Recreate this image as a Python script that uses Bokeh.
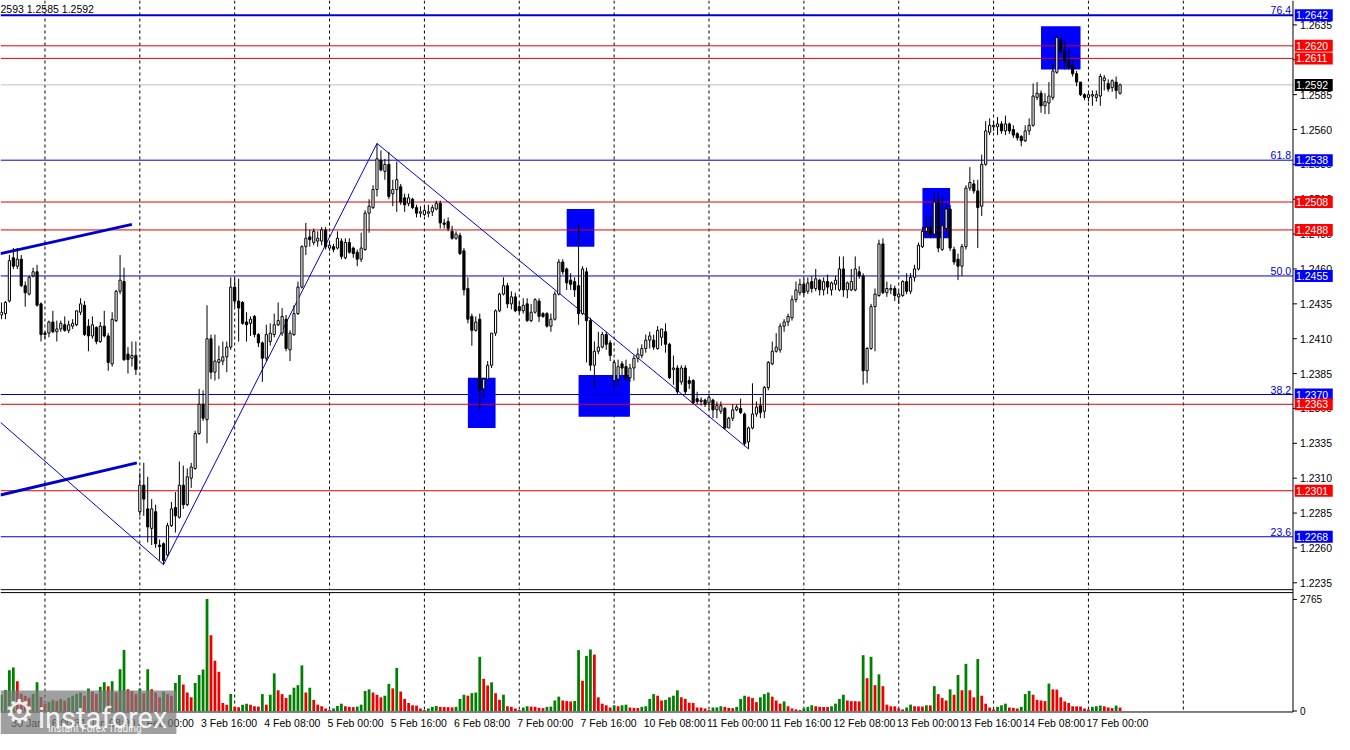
from bokeh.plotting import figure
from bokeh.models import Range1d
from bokeh.embed import file_html
from bokeh.resources import INLINE
from bokeh.core.properties import value

# ---------------- data (hourly candles, 30 Jan 13:00 .. 17 Feb 08:00) ----------------
opens = [
    1.2427, 1.2428, 1.2437, 1.2468, 1.2462, 1.2467, 1.2448, 1.2442, 1.2455, 1.2458,
    1.2435, 1.2414, 1.2414, 1.2422, 1.2415, 1.2417, 1.2420, 1.2416, 1.2419, 1.2420,
    1.2429, 1.2434, 1.2419, 1.2412, 1.2418, 1.2408, 1.2419, 1.2412, 1.2392, 1.2423,
    1.2444, 1.2451, 1.2399, 1.2396, 1.2398, 1.2286, 1.2305, 1.2288, 1.2274, 1.2286,
    1.2262, 1.2263, 1.2255, 1.2276, 1.2289, 1.2282, 1.2305, 1.2291, 1.2310, 1.2317,
    1.2342, 1.2363, 1.2352, 1.2410, 1.2386, 1.2393, 1.2394, 1.2397, 1.2404, 1.2447,
    1.2437, 1.2436, 1.2422, 1.2421, 1.2426, 1.2413, 1.2407, 1.2396, 1.2408, 1.2413,
    1.2420, 1.2414, 1.2424, 1.2402, 1.2413, 1.2428, 1.2447, 1.2476, 1.2483, 1.2479,
    1.2480, 1.2480, 1.2488, 1.2475, 1.2476, 1.2475, 1.2480, 1.2468, 1.2479, 1.2475,
    1.2472, 1.2467, 1.2474, 1.2500, 1.2504, 1.2517, 1.2538, 1.2530, 1.2535, 1.2514,
    1.2517, 1.2519, 1.2511, 1.2507, 1.2510, 1.2504, 1.2500, 1.2499, 1.2500, 1.2501,
    1.2503, 1.2507, 1.2493, 1.2494, 1.2487, 1.2482, 1.2484, 1.2473, 1.2446, 1.2426,
    1.2416, 1.2424, 1.2374, 1.2381, 1.2391, 1.2414, 1.2430, 1.2442, 1.2448, 1.2435,
    1.2440, 1.2433, 1.2430, 1.2435, 1.2423, 1.2429, 1.2437, 1.2428, 1.2428, 1.2419,
    1.2424, 1.2442, 1.2465, 1.2460, 1.2452, 1.2451, 1.2448, 1.2428, 1.2458, 1.2423,
    1.2391, 1.2401, 1.2404, 1.2413, 1.2407, 1.2380, 1.2381, 1.2392, 1.2390, 1.2382,
    1.2389, 1.2396, 1.2398, 1.2403, 1.2409, 1.2409, 1.2403, 1.2411, 1.2415, 1.2406,
    1.2388, 1.2389, 1.2379, 1.2389, 1.2380, 1.2380, 1.2367, 1.2365, 1.2366, 1.2364,
    1.2366, 1.2359, 1.2358, 1.2360, 1.2346, 1.2353, 1.2359, 1.2360, 1.2356, 1.2336,
    1.2346, 1.2356, 1.2362, 1.2358, 1.2375, 1.2392, 1.2401, 1.2402, 1.2419, 1.2422,
    1.2425, 1.2438, 1.2443, 1.2449, 1.2444, 1.2451, 1.2446, 1.2452, 1.2445, 1.2451,
    1.2445, 1.2449, 1.2445, 1.2460, 1.2445, 1.2445, 1.2445, 1.2458, 1.2455, 1.2387,
    1.2403, 1.2433, 1.2441, 1.2478, 1.2443, 1.2445, 1.2446, 1.2440, 1.2441, 1.2451,
    1.2444, 1.2454, 1.2460, 1.2476, 1.2487, 1.2490, 1.2485, 1.2508, 1.2474, 1.2489,
    1.2503, 1.2474, 1.2467, 1.2462, 1.2476, 1.2518, 1.2521, 1.2516, 1.2505, 1.2535,
    1.2558, 1.2562, 1.2562, 1.2564, 1.2559, 1.2564, 1.2560, 1.2557, 1.2555, 1.2552,
    1.2559, 1.2563, 1.2583, 1.2586, 1.2577, 1.2579, 1.2583, 1.2601, 1.2624, 1.2616,
    1.2609, 1.2606, 1.2600, 1.2594, 1.2585, 1.2583, 1.2584, 1.2583, 1.2584, 1.2595,
    1.2593, 1.2590, 1.2594, 1.2586,
]
highs = [
    1.2436, 1.2437, 1.2470, 1.2475, 1.2475, 1.2470, 1.2451, 1.2455, 1.2461, 1.2463,
    1.2436, 1.2415, 1.2423, 1.2430, 1.2423, 1.2423, 1.2426, 1.2423, 1.2424, 1.2430,
    1.2439, 1.2437, 1.2424, 1.2426, 1.2419, 1.2422, 1.2430, 1.2414, 1.2429, 1.2445,
    1.2470, 1.2461, 1.2404, 1.2408, 1.2408, 1.2314, 1.2321, 1.2311, 1.2295, 1.2291,
    1.2266, 1.2264, 1.2278, 1.2293, 1.2300, 1.2322, 1.2319, 1.2317, 1.2321, 1.2344,
    1.2374, 1.2373, 1.2434, 1.2413, 1.2413, 1.2405, 1.2408, 1.2408, 1.2454, 1.2453,
    1.2453, 1.2437, 1.2429, 1.2426, 1.2427, 1.2414, 1.2408, 1.2420, 1.2421, 1.2428,
    1.2436, 1.2432, 1.2427, 1.2416, 1.2434, 1.2451, 1.2477, 1.2493, 1.2488, 1.2489,
    1.2487, 1.2490, 1.2490, 1.2479, 1.2478, 1.2487, 1.2482, 1.2482, 1.2482, 1.2476,
    1.2474, 1.2486, 1.2502, 1.2510, 1.2520, 1.2550, 1.2545, 1.2539, 1.2544, 1.2524,
    1.2537, 1.2521, 1.2514, 1.2514, 1.2511, 1.2506, 1.2505, 1.2505, 1.2506, 1.2506,
    1.2509, 1.2509, 1.2496, 1.2497, 1.2491, 1.2487, 1.2486, 1.2475, 1.2454, 1.2428,
    1.2426, 1.2428, 1.2382, 1.2394, 1.2414, 1.2431, 1.2443, 1.2454, 1.2450, 1.2444,
    1.2443, 1.2436, 1.2439, 1.2439, 1.2435, 1.2439, 1.2439, 1.2429, 1.2429, 1.2428,
    1.2444, 1.2467, 1.2467, 1.2461, 1.2457, 1.2454, 1.2493, 1.2462, 1.2461, 1.2425,
    1.2408, 1.2415, 1.2415, 1.2415, 1.2409, 1.2395, 1.2395, 1.2394, 1.2395, 1.2392,
    1.2398, 1.2403, 1.2406, 1.2413, 1.2415, 1.2413, 1.2419, 1.2417, 1.2421, 1.2407,
    1.2398, 1.2391, 1.2391, 1.2391, 1.2383, 1.2381, 1.2372, 1.2368, 1.2367, 1.2370,
    1.2367, 1.2365, 1.2365, 1.2361, 1.2354, 1.2363, 1.2363, 1.2367, 1.2357, 1.2347,
    1.2378, 1.2365, 1.2368, 1.2376, 1.2394, 1.2408, 1.2414, 1.2421, 1.2424, 1.2428,
    1.2441, 1.2451, 1.2453, 1.2453, 1.2454, 1.2455, 1.2460, 1.2453, 1.2454, 1.2456,
    1.2451, 1.2455, 1.2469, 1.2469, 1.2451, 1.2460, 1.2469, 1.2462, 1.2457, 1.2404,
    1.2435, 1.2446, 1.2481, 1.2482, 1.2451, 1.2449, 1.2448, 1.2444, 1.2452, 1.2457,
    1.2457, 1.2463, 1.2479, 1.2490, 1.2498, 1.2498, 1.2515, 1.2515, 1.2512, 1.2506,
    1.2506, 1.2476, 1.2471, 1.2478, 1.2520, 1.2533, 1.2524, 1.2524, 1.2542, 1.2566,
    1.2568, 1.2566, 1.2569, 1.2566, 1.2570, 1.2565, 1.2563, 1.2558, 1.2556, 1.2563,
    1.2568, 1.2593, 1.2594, 1.2588, 1.2586, 1.2594, 1.2607, 1.2628, 1.2626, 1.2624,
    1.2618, 1.2610, 1.2602, 1.2594, 1.2586, 1.2586, 1.2588, 1.2588, 1.2600, 1.2599,
    1.2596, 1.2596, 1.2598, 1.2593,
]
lows = [
    1.2424, 1.2424, 1.2436, 1.2460, 1.2460, 1.2447, 1.2433, 1.2441, 1.2454, 1.2433,
    1.2408, 1.2410, 1.2411, 1.2414, 1.2408, 1.2415, 1.2415, 1.2414, 1.2417, 1.2419,
    1.2427, 1.2412, 1.2401, 1.2410, 1.2406, 1.2407, 1.2411, 1.2387, 1.2390, 1.2422,
    1.2442, 1.2394, 1.2385, 1.2390, 1.2384, 1.2283, 1.2283, 1.2264, 1.2262, 1.2260,
    1.2251, 1.2248, 1.2254, 1.2275, 1.2271, 1.2281, 1.2288, 1.2290, 1.2303, 1.2316,
    1.2341, 1.2351, 1.2335, 1.2381, 1.2380, 1.2381, 1.2391, 1.2386, 1.2402, 1.2433,
    1.2408, 1.2420, 1.2408, 1.2412, 1.2411, 1.2404, 1.2379, 1.2394, 1.2405, 1.2411,
    1.2419, 1.2412, 1.2401, 1.2394, 1.2412, 1.2427, 1.2446, 1.2470, 1.2476, 1.2477,
    1.2476, 1.2477, 1.2474, 1.2473, 1.2472, 1.2474, 1.2467, 1.2467, 1.2471, 1.2468,
    1.2462, 1.2465, 1.2473, 1.2486, 1.2503, 1.2512, 1.2530, 1.2524, 1.2510, 1.2505,
    1.2501, 1.2506, 1.2501, 1.2505, 1.2503, 1.2497, 1.2497, 1.2498, 1.2497, 1.2498,
    1.2502, 1.2489, 1.2489, 1.2487, 1.2481, 1.2481, 1.2470, 1.2441, 1.2421, 1.2405,
    1.2415, 1.2359, 1.2367, 1.2380, 1.2389, 1.2412, 1.2429, 1.2441, 1.2432, 1.2431,
    1.2429, 1.2428, 1.2428, 1.2422, 1.2422, 1.2428, 1.2422, 1.2425, 1.2418, 1.2415,
    1.2423, 1.2441, 1.2456, 1.2445, 1.2445, 1.2440, 1.2420, 1.2427, 1.2393, 1.2387,
    1.2375, 1.2399, 1.2403, 1.2402, 1.2394, 1.2373, 1.2376, 1.2384, 1.2380, 1.2379,
    1.2380, 1.2393, 1.2396, 1.2400, 1.2403, 1.2402, 1.2402, 1.2405, 1.2400, 1.2381,
    1.2377, 1.2370, 1.2377, 1.2370, 1.2374, 1.2363, 1.2363, 1.2362, 1.2361, 1.2359,
    1.2353, 1.2353, 1.2356, 1.2345, 1.2346, 1.2351, 1.2358, 1.2356, 1.2333, 1.2331,
    1.2345, 1.2354, 1.2353, 1.2353, 1.2373, 1.2391, 1.2400, 1.2400, 1.2415, 1.2419,
    1.2423, 1.2436, 1.2441, 1.2441, 1.2442, 1.2443, 1.2444, 1.2441, 1.2441, 1.2442,
    1.2441, 1.2445, 1.2444, 1.2440, 1.2439, 1.2444, 1.2444, 1.2453, 1.2377, 1.2378,
    1.2402, 1.2401, 1.2440, 1.2442, 1.2440, 1.2442, 1.2437, 1.2435, 1.2440, 1.2442,
    1.2442, 1.2451, 1.2459, 1.2475, 1.2484, 1.2482, 1.2483, 1.2472, 1.2473, 1.2487,
    1.2473, 1.2463, 1.2452, 1.2455, 1.2474, 1.2516, 1.2514, 1.2475, 1.2498, 1.2534,
    1.2556, 1.2559, 1.2556, 1.2557, 1.2556, 1.2557, 1.2554, 1.2552, 1.2548, 1.2551,
    1.2556, 1.2562, 1.2581, 1.2572, 1.2571, 1.2571, 1.2581, 1.2600, 1.2615, 1.2603,
    1.2603, 1.2598, 1.2591, 1.2584, 1.2581, 1.2580, 1.2577, 1.2580, 1.2577, 1.2588,
    1.2587, 1.2587, 1.2582, 1.2585,
]
closes = [
    1.2429, 1.2436, 1.2466, 1.2462, 1.2467, 1.2448, 1.2443, 1.2454, 1.2458, 1.2434,
    1.2413, 1.2413, 1.2422, 1.2415, 1.2417, 1.2421, 1.2416, 1.2420, 1.2421, 1.2430,
    1.2435, 1.2413, 1.2412, 1.2420, 1.2408, 1.2419, 1.2412, 1.2393, 1.2424, 1.2444,
    1.2452, 1.2395, 1.2395, 1.2398, 1.2388, 1.2305, 1.2295, 1.2275, 1.2288, 1.2263,
    1.2261, 1.2251, 1.2276, 1.2288, 1.2283, 1.2305, 1.2291, 1.2311, 1.2318, 1.2342,
    1.2363, 1.2353, 1.2410, 1.2386, 1.2394, 1.2395, 1.2397, 1.2404, 1.2447, 1.2437,
    1.2432, 1.2421, 1.2420, 1.2424, 1.2413, 1.2407, 1.2396, 1.2413, 1.2414, 1.2420,
    1.2423, 1.2426, 1.2403, 1.2414, 1.2428, 1.2447, 1.2476, 1.2482, 1.2481, 1.2487,
    1.2482, 1.2488, 1.2476, 1.2477, 1.2474, 1.2482, 1.2469, 1.2479, 1.2472, 1.2471,
    1.2467, 1.2475, 1.2500, 1.2505, 1.2517, 1.2539, 1.2531, 1.2535, 1.2512, 1.2517,
    1.2524, 1.2508, 1.2506, 1.2511, 1.2504, 1.2500, 1.2501, 1.2502, 1.2501, 1.2504,
    1.2507, 1.2493, 1.2492, 1.2489, 1.2482, 1.2485, 1.2471, 1.2445, 1.2424, 1.2416,
    1.2422, 1.2373, 1.2381, 1.2391, 1.2414, 1.2430, 1.2442, 1.2448, 1.2435, 1.2440,
    1.2430, 1.2430, 1.2434, 1.2423, 1.2429, 1.2438, 1.2426, 1.2426, 1.2419, 1.2424,
    1.2442, 1.2465, 1.2458, 1.2450, 1.2449, 1.2445, 1.2428, 1.2460, 1.2423, 1.2391,
    1.2401, 1.2404, 1.2413, 1.2406, 1.2398, 1.2393, 1.2390, 1.2389, 1.2381, 1.2389,
    1.2396, 1.2399, 1.2403, 1.2409, 1.2412, 1.2404, 1.2416, 1.2417, 1.2406, 1.2382,
    1.2389, 1.2372, 1.2389, 1.2372, 1.2378, 1.2364, 1.2365, 1.2366, 1.2363, 1.2368,
    1.2359, 1.2362, 1.2362, 1.2346, 1.2353, 1.2359, 1.2361, 1.2357, 1.2335, 1.2346,
    1.2356, 1.2361, 1.2357, 1.2375, 1.2393, 1.2401, 1.2404, 1.2419, 1.2422, 1.2426,
    1.2438, 1.2445, 1.2449, 1.2443, 1.2450, 1.2446, 1.2453, 1.2445, 1.2451, 1.2447,
    1.2450, 1.2452, 1.2460, 1.2445, 1.2450, 1.2451, 1.2460, 1.2455, 1.2387, 1.2403,
    1.2433, 1.2442, 1.2478, 1.2443, 1.2446, 1.2446, 1.2441, 1.2442, 1.2451, 1.2444,
    1.2454, 1.2460, 1.2477, 1.2487, 1.2490, 1.2484, 1.2508, 1.2475, 1.2491, 1.2503,
    1.2475, 1.2465, 1.2462, 1.2476, 1.2518, 1.2522, 1.2516, 1.2504, 1.2535, 1.2559,
    1.2563, 1.2563, 1.2564, 1.2559, 1.2564, 1.2559, 1.2556, 1.2554, 1.2552, 1.2559,
    1.2563, 1.2584, 1.2586, 1.2577, 1.2580, 1.2584, 1.2602, 1.2626, 1.2616, 1.2609,
    1.2605, 1.2600, 1.2594, 1.2585, 1.2583, 1.2585, 1.2585, 1.2585, 1.2598, 1.2597,
    1.2589, 1.2595, 1.2588, 1.2592,
]
volumes = [
    400, 520, 1010, 1080, 735, 430, 380, 330, 420, 710,
    350, 180, 230, 280, 250, 300, 260, 330, 380, 420,
    458, 380, 560, 480, 420, 600, 711, 616, 735, 458,
    1035, 1509, 537, 498, 420, 560, 440, 1035, 537, 458,
    340, 480, 420, 380, 695, 893, 656, 458, 340, 695,
    893, 1027, 2773, 1880, 1248, 972, 198, 158, 419, 103,
    95, 158, 182, 158, 118, 110, 419, 158, 403, 932,
    514, 419, 324, 403, 577, 640, 1130, 458, 577, 277,
    158, 118, 63, 24, 63, 126, 182, 118, 103, 95,
    110, 158, 498, 537, 458, 403, 340, 379, 672, 561,
    1067, 482, 300, 198, 142, 134, 63, 24, 63, 103,
    126, 103, 100, 95, 90, 103, 300, 403, 380, 442,
    458, 1343, 798, 632, 711, 442, 277, 403, 118, 103,
    63, 24, 87, 118, 110, 103, 79, 71, 103, 110,
    261, 356, 261, 245, 237, 248, 1509, 750, 1367, 1525,
    1398, 340, 182, 142, 87, 142, 118, 142, 158, 87,
    79, 75, 103, 118, 300, 419, 379, 261, 277, 340,
    379, 514, 340, 300, 205, 200, 87, 85, 63, 24,
    87, 90, 118, 103, 79, 71, 103, 300, 379, 356,
    324, 221, 340, 419, 458, 356, 261, 182, 237, 118,
    63, 40, 24, 63, 103, 142, 118, 103, 100, 98,
    118, 182, 300, 403, 261, 245, 243, 237, 1383, 814,
    1343, 640, 909, 616, 158, 118, 115, 63, 40, 87,
    158, 118, 115, 112, 142, 140, 616, 419, 324, 261,
    537, 403, 893, 514, 1169, 514, 340, 1288, 379, 182,
    87, 40, 103, 142, 182, 87, 79, 63, 103, 419,
    498, 403, 277, 261, 245, 679, 537, 530, 340, 237,
    198, 118, 115, 112, 63, 40, 103, 118, 134, 118,
    87, 71, 134, 87,
]

# x-axis time labels (candle index -> text) and day separators (midnight candles)
label_idx = [3, 19, 35, 51, 67, 83, 99, 115, 131, 147, 163, 179, 195, 211, 227, 243, 259, 275]
label_txt = ["30 Jan 16:00", "31 Jan 08:00", "3 Feb 00:00", "3 Feb 16:00", "4 Feb 08:00",
             "5 Feb 00:00", "5 Feb 16:00", "6 Feb 08:00", "7 Feb 00:00", "7 Feb 16:00",
             "10 Feb 08:00", "11 Feb 00:00", "11 Feb 16:00", "12 Feb 08:00", "13 Feb 00:00",
             "13 Feb 16:00", "14 Feb 08:00", "17 Feb 00:00"]
day_idx = [11, 35, 59, 83, 107, 131, 155, 179, 203, 227, 251, 275, 299]

price_ticks = [1.2235, 1.2260, 1.2285, 1.2310, 1.2335, 1.2360, 1.2385, 1.2410, 1.2435,
               1.2460, 1.2485, 1.2510, 1.2535, 1.2560, 1.2585, 1.2610, 1.2635]
vol_ticks = [0, 2765]

# horizontal levels
fib_levels = [1.2642, 1.2538, 1.2455, 1.2370, 1.2268]
fib_names = ["76.4", "61.8", "50.0", "38.2", "23.6"]
sr_levels = [1.2620, 1.2611, 1.2508, 1.2488, 1.2363, 1.2301]
last_price = 1.2592

# zigzag (candle index, price) and channel lines
zz_idx = [-0.25, 41, 95, 189]
zz_price = [1.2350, 1.2248, 1.2550, 1.2331]
ch_x0 = [-0.25, -0.25]
ch_y0 = [1.2471, 1.2298]
ch_x1 = [33, 34.25]
ch_y1 = [1.2492, 1.2321]

# highlighted zones (index range, price range)
box_l = [118, 143, 146, 233, 263]
box_r = [125, 150, 159, 240, 273]
box_t = [1.2382, 1.2503, 1.2384, 1.2518, 1.2634]
box_b = [1.2346, 1.2476, 1.2354, 1.2482, 1.2603]

header_text = "2593 1.2585 1.2592"

# ---------------- layout helpers (reference pixel -> plot coordinates) ----------------
W, H = 1334, 734
REF_W, REF_H = 1350, 750
P_AT_TOP = 1.26525          # price at top pixel row
P_PER_PX = 0.00007017       # price per reference pixel
V_BASE_PX = 726             # reference row of volume zero
V_PER_PX = 24.25            # volume per reference pixel


def py(ref_y):
    return P_AT_TOP - ref_y * P_PER_PX


def ix(ref_x):
    return (ref_x - 1) / 4.0


def vy(ref_y):
    return (V_BASE_PX - ref_y) * V_PER_PX


FONT = "Liberation Sans"
BLUE_LINE = "#0000cd"
BLUE = "#0000ff"
RED_LINE = "#e00000"
RED = "#ff0000"
GREEN_VOL = "#008000"
RED_VOL = "#ee0000"

AXIS_X = ix(1308)
MAIN_BOT = py(602)
VOL_TOP = py(605)
VOL_BOT = py(727)

n = min(len(opens), len(highs), len(lows), len(closes), len(volumes))
idx = list(range(n))

p = figure(width=W, height=H, x_range=Range1d(ix(0), ix(REF_W)), y_range=Range1d(py(REF_H), py(0)),
           output_backend="svg", toolbar_location=None, x_axis_location=None, y_axis_location=None,
           min_border=0, min_border_left=0, min_border_right=0, min_border_top=0, min_border_bottom=0)
p.extra_y_ranges = {"vol": Range1d(vy(REF_H), vy(0))}
p.grid.visible = False
p.outline_line_color = None
p.background_fill_color = "white"
p.border_fill_color = "white"

# day separators (dashed) in both panels
nd = len(day_idx)
p.segment(x0=day_idx, y0=[py(0)] * nd, x1=day_idx, y1=[MAIN_BOT] * nd,
          line_color="black", line_dash="3 3", line_width=1)
p.segment(x0=day_idx, y0=[VOL_TOP] * nd, x1=day_idx, y1=[VOL_BOT] * nd,
          line_color="black", line_dash="3 3", line_width=1)

# highlighted zones
p.quad(left=box_l, right=box_r, top=box_t, bottom=box_b, fill_color=BLUE, line_color=None)

# horizontal levels
p.segment(x0=[ix(0)], y0=[last_price], x1=[AXIS_X], y1=[last_price], line_color="#c0c0c0", line_width=1)
for lv in sr_levels:
    p.segment(x0=[ix(0)], y0=[lv], x1=[AXIS_X], y1=[lv], line_color=RED_LINE, line_width=1)
for lv in fib_levels:
    p.segment(x0=[ix(0)], y0=[lv], x1=[AXIS_X], y1=[lv], line_color=BLUE_LINE,
              line_width=2 if lv == max(fib_levels) else 1)

# zigzag and channel
p.line(zz_idx, zz_price, line_color=BLUE_LINE, line_width=1)
p.segment(x0=ch_x0, y0=ch_y0, x1=ch_x1, y1=ch_y1, line_color=BLUE_LINE, line_width=3)

# candles
body_top = [max(opens[i], closes[i]) for i in idx]
body_bot = [min(opens[i], closes[i]) for i in idx]
body_fill = ["white" if closes[i] >= opens[i] else "black" for i in idx]
p.segment(x0=idx, y0=lows[:n], x1=idx, y1=highs[:n], line_color="black", line_width=1)
p.vbar(x=idx, top=body_top, bottom=body_bot, width=0.55, fill_color=body_fill,
       line_color="black", line_width=1)

# fib level names
p.text(x=[ix(1306)] * len(fib_levels), y=fib_levels, text=fib_names,
       text_align="right", text_baseline="bottom", text_color=BLUE_LINE,
       text_font=value(FONT), text_font_size="10.5px", y_offset=-1)

# volume bars
vcol = [GREEN_VOL if (i == 0 or volumes[i] > volumes[i - 1]) else RED_VOL for i in idx]
p.vbar(x=idx, top=volumes[:n], bottom=0, width=0.7, fill_color=vcol, line_color=None,
       y_range_name="vol")

# panel borders and right axis
p.segment(x0=[ix(0)] * 3, y0=[MAIN_BOT, VOL_TOP, VOL_BOT], x1=[AXIS_X] * 3,
          y1=[MAIN_BOT, VOL_TOP, VOL_BOT], line_color="black", line_width=1)
p.segment(x0=[AXIS_X], y0=[py(0)], x1=[AXIS_X], y1=[VOL_BOT], line_color="black", line_width=1)

# price axis ticks and labels
nt = len(price_ticks)
p.segment(x0=[AXIS_X] * nt, y0=price_ticks, x1=[ix(1312)] * nt, y1=price_ticks,
          line_color="black", line_width=1)
p.text(x=[ix(1315)] * nt, y=price_ticks, text=[f"{t:.4f}" for t in price_ticks],
       text_align="left", text_baseline="middle", text_color="black",
       text_font=value(FONT), text_font_size="10.5px")

# volume axis ticks and labels
nv = len(vol_ticks)
p.segment(x0=[AXIS_X] * nv, y0=vol_ticks, x1=[ix(1312)] * nv, y1=vol_ticks,
          line_color="black", line_width=1, y_range_name="vol")
p.text(x=[ix(1315)] * nv, y=vol_ticks, text=[str(t) for t in vol_ticks],
       text_align="left", text_baseline="middle", text_color="black",
       text_font=value(FONT), text_font_size="10px", y_range_name="vol")

# price tags on the axis
tag_prices = fib_levels + sr_levels + [last_price]
tag_colors = [BLUE] * len(fib_levels) + [RED] * len(sr_levels) + ["black"]
ntg = len(tag_prices)
p.rect(x=[ix(1329)] * ntg, y=tag_prices, width=38, height=12, width_units="screen",
       height_units="screen", fill_color=tag_colors, line_color=None)
p.text(x=[ix(1311)] * ntg, y=tag_prices, text=[f"{t:.4f}" for t in tag_prices],
       text_align="left", text_baseline="middle", text_color="white",
       text_font=value(FONT), text_font_size="10.5px")

# time labels under the volume panel
nl = len(label_idx)
p.text(x=[i - 0.5 for i in label_idx], y=[py(738)] * nl, text=label_txt,
       text_align="left", text_baseline="middle", text_color="black",
       text_font=value(FONT), text_font_size="10.5px")

# header text
p.text(x=[ix(0)], y=[py(9)], text=[header_text], text_align="left", text_baseline="middle",
       text_color="black", text_font=value(FONT), text_font_size="10.5px")

# watermark logo (semi-transparent, labels show through as in the original)
p.quad(left=[ix(0)], right=[ix(178)], top=[py(705)], bottom=[py(REF_H)],
       fill_color="#7a7a7a", fill_alpha=0.72, line_color=None)
p.text(x=[ix(4)], y=[py(726)], text=["\u2699"], text_align="left", text_baseline="middle",
       text_color="white", text_font=value("DejaVu Sans"), text_font_size="33px", text_alpha=0.9)
p.text(x=[ix(38)], y=[py(733)], text=["instaforex"], text_align="left", text_baseline="alphabetic",
       text_color="white", text_font=value("Roboto"), text_font_size="29px", text_alpha=0.9)
p.text(x=[ix(48)], y=[py(744)], text=["Instant Forex Trading"], text_align="left",
       text_baseline="alphabetic", text_color="white", text_font=value("Roboto"),
       text_font_size="10px", text_alpha=0.9)

open("out.html", "w").write(file_html(p, INLINE))
